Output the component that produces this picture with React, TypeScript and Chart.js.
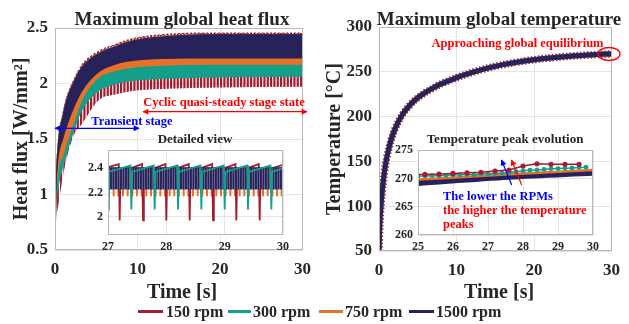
import React, { useEffect, useRef } from "react";
import { Chart, registerables } from "chart.js";

Chart.register(...registerables);

const SERIF = "'Liberation Serif', 'Times New Roman', Times, serif";
const INK = "#262626";
const GRID = "#e4e4e4";
const BOX = "#b8b8b8";
const RED_TXT = "#ff0000";
const BLUE_TXT = "#0000ff";

const rpmLabels = ["150 rpm", "300 rpm", "750 rpm", "1500 rpm"];
const rpmColors = ["#A51C30", "#149F8B", "#E8712A", "#27235A"];

// ---- Left panel: heat flux envelopes (upper / lower limits of the oscillation) ----
const fluxTime = [0, 0.1, 0.4, 1, 1.4, 2.2, 3.3, 5.3, 7.3, 9.2, 13, 20, 30];
const fluxPeak150 = [0.62, 1.02, 1.47, 1.74, 1.87, 2.02, 2.17, 2.29, 2.35, 2.4, 2.44, 2.455, 2.455];
const fluxPeak = [0.62, 1.0, 1.45, 1.72, 1.85, 2.0, 2.15, 2.27, 2.33, 2.38, 2.42, 2.44, 2.44];
const fluxLow1500 = [0.62, 0.95, 1.3, 1.5, 1.6, 1.76, 1.93, 2.1, 2.17, 2.2, 2.22, 2.225, 2.225];
const fluxLow750 = [0.62, 0.9, 1.2, 1.35, 1.45, 1.62, 1.85, 2.05, 2.11, 2.14, 2.16, 2.17, 2.17];
const fluxLow300 = [0.62, 0.85, 1.05, 1.25, 1.35, 1.55, 1.76, 1.93, 1.99, 2.02, 2.04, 2.055, 2.06];
const fluxLow150 = [0.62, 0.75, 0.9, 1.18, 1.32, 1.52, 1.64, 1.85, 1.9, 1.93, 1.95, 1.965, 1.97];

// ---- Detailed view (27–30 s) ----
const detailTime150 = [27.0, 27.185, 27.2, 27.215, 27.585, 27.6, 27.615, 27.985, 28.0, 28.015, 28.385, 28.4, 28.415, 28.785, 28.8, 28.815, 29.185, 29.2, 29.215, 29.585, 29.6, 29.615, 30.0];
const detailFlux150 = [2.41, 2.435, 1.97, 2.37, 2.435, 1.97, 2.37, 2.435, 1.97, 2.37, 2.435, 1.97, 2.37, 2.435, 1.97, 2.37, 2.435, 1.97, 2.37, 2.435, 1.97, 2.37, 2.43];
const detailTime300 = [27.0, 27.015, 27.385, 27.4, 27.415, 27.785, 27.8, 27.815, 28.185, 28.2, 28.215, 28.585, 28.6, 28.615, 28.985, 29.0, 29.015, 29.385, 29.4, 29.415, 29.785, 29.8, 29.815, 30.0];
const detailFlux300 = [2.06, 2.37, 2.425, 2.06, 2.37, 2.425, 2.06, 2.37, 2.425, 2.06, 2.37, 2.425, 2.06, 2.37, 2.425, 2.06, 2.37, 2.425, 2.06, 2.37, 2.425, 2.06, 2.37, 2.4];
const detailBandTime = [27, 30];
const detailTop750 = [2.405, 2.405];
const detailLow750 = [2.17, 2.17];
const detailTop1500 = [2.405, 2.405];
const detailLow1500 = [2.225, 2.225];

// ---- Right panel: maximum global temperature ----
const tempTime = [0, 0.1, 0.25, 0.5, 0.75, 1, 1.5, 2, 3, 4, 5, 6, 7, 8, 9.3, 11, 13.5, 16, 18, 20, 22, 25, 28, 30];
const tempRise = [50, 78, 100, 124, 141, 154, 172, 185, 202, 213, 221, 227, 232, 236.5, 241, 246.5, 253, 258, 261, 263.5, 265.5, 267.7, 269.2, 270];

// ---- Temperature peak evolution (25–30 s) ----
const peakTime150 = [25.0, 25.2, 25.6, 26.0, 26.4, 26.8, 27.2, 27.6, 28.0, 28.4, 28.8, 29.2, 29.6];
const peakTemp150 = [270.7, 270.72, 270.78, 270.9, 271.0, 271.1, 271.3, 271.5, 272.2, 272.6, 272.5, 272.5, 272.5];
const peakTime300 = [25.0, 25.2, 25.4, 25.6, 25.8, 26.0, 26.2, 26.4, 26.6, 26.8, 27.0, 27.2, 27.4, 27.6, 27.8, 28.0, 28.2, 28.4, 28.6, 28.8, 29.0, 29.2, 29.4, 29.6, 29.8];
const peakTemp300 = [270.4, 270.45, 270.5, 270.5, 270.55, 270.6, 270.65, 270.7, 270.7, 270.8, 270.85, 270.9, 270.95, 271.05, 271.2, 271.35, 271.45, 271.5, 271.6, 271.7, 271.75, 271.8, 271.85, 271.95, 272.0];
const peakTime750 = [25, 27.5, 30];
const peakTemp750 = [269.8, 270.7, 271.5];
const peakTime1500 = [25, 27.6, 30];
const peakTemp1500 = [269.2, 270.3, 271.0];

// ---- Tick labels ----
const timeTicks = [0, 10, 20, 30];
const fluxTicks = [0.5, 1, 1.5, 2, 2.5];
const tempTicks = [50, 100, 150, 200, 250, 300];
const detailTimeTicks = [27, 28, 29, 30];
const detailFluxTicks = [2, 2.2, 2.4];
const peakTimeTicks = [25, 26, 27, 28, 29, 30];
const peakTempTicks = [260, 265, 270, 275];

const pts = (xs: number[], ys: number[]) => xs.map((x, i) => ({ x, y: ys[i] }));

function stripes(width: number, bars: Array<[number, number]>, color: string, bg: string) {
  const c = document.createElement("canvas");
  c.width = width;
  c.height = 4;
  const g = c.getContext("2d")!;
  g.fillStyle = bg;
  g.fillRect(0, 0, width, 4);
  g.fillStyle = color;
  for (const [x, w] of bars) g.fillRect(x, 0, w, 4);
  return g.createPattern(c, "repeat")!;
}

function axis(kind: "x" | "y", min: number, max: number, ticks: number[], fontSize: number, pad: number, size: number) {
  return {
    type: "linear" as const,
    min,
    max,
    afterBuildTicks: (s: any) => {
      s.ticks = ticks.map((v) => ({ value: v }));
    },
    afterFit: (s: any) => {
      if (kind === "x") s.height = size;
      else s.width = size;
    },
    grid: { color: GRID, lineWidth: 1, drawTicks: false },
    border: { display: false },
    ticks: {
      color: INK,
      padding: pad,
      autoSkip: false,
      maxRotation: 0,
      font: { family: SERIF, size: fontSize, weight: "bold" as const },
      callback: (v: any) => String(v),
    },
  };
}

const frame = {
  id: "frame",
  beforeDraw(chart: any) {
    const { ctx, chartArea: a } = chart;
    ctx.save();
    ctx.fillStyle = "#ffffff";
    ctx.fillRect(a.left, a.top, a.right - a.left, a.bottom - a.top);
    ctx.restore();
  },
  afterDatasetsDraw(chart: any) {
    const { ctx, chartArea: a } = chart;
    ctx.save();
    ctx.strokeStyle = BOX;
    ctx.lineWidth = 1;
    ctx.strokeRect(Math.round(a.left) + 0.5, Math.round(a.top) + 0.5, Math.round(a.right - a.left) - 1, Math.round(a.bottom - a.top) - 1);
    ctx.restore();
  },
};

function baseOptions(padding: any, scales: any) {
  return {
    animation: false as const,
    responsive: false,
    maintainAspectRatio: false,
    events: [] as any[],
    layout: { padding },
    plugins: { legend: { display: false }, tooltip: { enabled: false }, title: { display: false } },
    scales,
  };
}

const band = (xs: number[], lo: number[], hi: number[], fill: any, border: string, bw: number, order: number, dash: number[] = []) => [
  { data: pts(xs, lo), borderWidth: 0, pointRadius: 0, fill: false, order, cubicInterpolationMode: "monotone" as const },
  {
    data: pts(xs, hi),
    borderWidth: bw,
    borderColor: border,
    borderDash: dash,
    backgroundColor: fill,
    pointRadius: 0,
    fill: "-1",
    order,
    cubicInterpolationMode: "monotone" as const,
  },
];

function buildFluxMain(): any {
  const redPat = stripes(10, [[0, 2.2], [3.33, 2.2], [6.67, 2.2]], rpmColors[0], "rgba(255,255,255,0)");
  return {
    type: "line",
    data: {
      datasets: [
        ...band(fluxTime, fluxLow150, fluxPeak150, redPat, rpmColors[0], 1.2, 40, [2, 2]),
        ...band(fluxTime, fluxLow300, fluxPeak, rpmColors[1], rpmColors[1], 1.5, 30),
        ...band(fluxTime, fluxLow750, fluxPeak, rpmColors[2], rpmColors[2], 1.5, 20),
        ...band(fluxTime, fluxLow1500, fluxPeak, rpmColors[3], rpmColors[3], 1, 10),
      ],
    },
    options: baseOptions(
      { left: 0, top: 28, right: 11, bottom: 3 },
      {
        x: axis("x", 0, 30, timeTicks, 17, 9, 29),
        y: axis("y", 0.5, 2.5, fluxTicks, 17, 7, 55),
      }
    ),
    plugins: [frame],
  };
}

function buildTempMain(): any {
  const mk = (i: number, w: number, order: number, dash: number[] = []) => ({
    data: pts(tempTime, tempRise),
    borderColor: rpmColors[i],
    borderWidth: w,
    borderDash: dash,
    pointRadius: 0,
    fill: false,
    order,
    cubicInterpolationMode: "monotone" as const,
  });
  return {
    type: "line",
    data: { datasets: [mk(0, 7.5, 3, [1.5, 2]), mk(1, 5, 2), mk(2, 5, 1), mk(3, 5, 0)] },
    options: baseOptions(
      { left: 0, top: 27, right: 10, bottom: 3 },
      {
        x: axis("x", 0, 30, timeTicks, 17, 9, 28),
        y: axis("y", 50, 300, tempTicks, 17, 7, 59),
      }
    ),
    plugins: [frame],
  };
}

function buildFluxDetail(): any {
  const orangePat = stripes(14, [[0, 2], [4.67, 2], [9.33, 2]], rpmColors[2], "rgba(255,255,255,0)");
  const navyPat = stripes(5, [[0, 1.9], [2.5, 1.9]], rpmColors[3], "#8f8cae");
  const line = (xs: number[], ys: number[], i: number, order: number) => ({
    data: pts(xs, ys),
    borderColor: rpmColors[i],
    borderWidth: 1.8,
    pointRadius: 0,
    fill: false,
    order,
  });
  return {
    type: "line",
    data: {
      datasets: [
        ...band(detailBandTime, detailLow750, detailTop750, orangePat, "rgba(0,0,0,0)", 0, 30),
        line(detailTime150, detailFlux150, 0, 25),
        ...band(detailBandTime, detailLow1500, detailTop1500, navyPat, rpmColors[3], 1, 20),
        line(detailTime300, detailFlux300, 1, 10),
      ],
    },
    options: baseOptions(
      { left: 0, top: 9, right: 12, bottom: 5 },
      {
        x: axis("x", 27, 30, detailTimeTicks, 12, 5, 20),
        y: axis("y", 1.85, 2.55, detailFluxTicks, 12, 5, 28),
      }
    ),
    plugins: [frame],
  };
}

function buildTempPeak(): any {
  return {
    type: "line",
    data: {
      datasets: [
        {
          data: pts(peakTime150, peakTemp150),
          borderColor: rpmColors[0],
          backgroundColor: rpmColors[0],
          borderWidth: 1.5,
          pointRadius: (c: any) => (c.dataIndex === 0 ? 0 : 2.6),
          pointBorderWidth: 0,
          fill: false,
          order: 0,
        },
        {
          data: pts(peakTime300, peakTemp300),
          borderColor: rpmColors[1],
          backgroundColor: rpmColors[1],
          borderWidth: 1.5,
          pointRadius: 2.4,
          pointBorderWidth: 0,
          fill: false,
          order: 1,
        },
        {
          data: pts(peakTime750, peakTemp750),
          borderColor: rpmColors[2],
          borderWidth: 2.5,
          pointRadius: 0,
          fill: false,
          order: 2,
          cubicInterpolationMode: "monotone" as const,
        },
        {
          data: pts(peakTime1500, peakTemp1500),
          borderColor: rpmColors[3],
          borderWidth: 6,
          pointRadius: 0,
          fill: false,
          order: 3,
          cubicInterpolationMode: "monotone" as const,
        },
      ],
    },
    options: baseOptions(
      { left: 0, top: 10, right: 17, bottom: 5 },
      {
        x: axis("x", 25, 30, peakTimeTicks, 12, 5, 20),
        y: axis("y", 260, 275, peakTempTicks, 12, 5, 42),
      }
    ),
    plugins: [frame],
  };
}

function ChartCanvas({ left, top, width, height, build }: { left: number; top: number; width: number; height: number; build: () => any }) {
  const ref = useRef<HTMLCanvasElement>(null);
  useEffect(() => {
    const chart = new Chart(ref.current!, build());
    return () => chart.destroy();
  }, []);
  return <canvas ref={ref} width={width} height={height} style={{ position: "absolute", left, top, width, height }} />;
}

function Txt({ x, y, size, color = INK, anchor = "middle", children }: any) {
  const tx = anchor === "start" ? "0" : "-50%";
  return (
    <div
      style={{
        position: "absolute",
        left: x,
        top: y,
        transform: `translate(${tx},-50%)`,
        fontFamily: SERIF,
        fontWeight: "bold",
        fontSize: size,
        color,
        whiteSpace: "nowrap",
        lineHeight: 1,
      }}
    >
      {children}
    </div>
  );
}

function RotTxt({ x, y, size, children }: any) {
  return (
    <div style={{ position: "absolute", left: x, top: y, width: 0, height: 0 }}>
      <div
        style={{
          position: "absolute",
          left: 0,
          top: 0,
          transform: "translate(-50%,-50%) rotate(-90deg)",
          fontFamily: SERIF,
          fontWeight: "bold",
          fontSize: size,
          color: INK,
          whiteSpace: "nowrap",
          lineHeight: 1,
        }}
      >
        {children}
      </div>
    </div>
  );
}

export default function App() {
  const legendPos = [
    { x1: 138, x2: 163, tx: 166 },
    { x1: 228, x2: 251, tx: 253 },
    { x1: 319, x2: 343, tx: 345 },
    { x1: 409, x2: 434, tx: 436 },
  ];
  return (
    <div style={{ position: "absolute", left: 0, top: 0, width: 629, height: 324, background: "#fff", overflow: "hidden" }}>
      <ChartCanvas left={0} top={0} width={320} height={282} build={buildFluxMain} />
      <ChartCanvas left={320} top={0} width={309} height={282} build={buildTempMain} />
      <ChartCanvas left={80} top={138} width={215} height={122} build={buildFluxDetail} />
      <ChartCanvas left={376} top={138} width={234} height={122} build={buildTempPeak} />

      <svg width={629} height={324} style={{ position: "absolute", left: 0, top: 0, pointerEvents: "none" }}>
        <defs>
          <marker id="ahR" viewBox="0 0 10 10" refX="9" refY="5" markerWidth="6" markerHeight="5" orient="auto-start-reverse">
            <path d="M0,0 L10,5 L0,10 z" fill={RED_TXT} />
          </marker>
          <marker id="ahB" viewBox="0 0 10 10" refX="9" refY="5" markerWidth="6" markerHeight="5" orient="auto-start-reverse">
            <path d="M0,0 L10,5 L0,10 z" fill={BLUE_TXT} />
          </marker>
        </defs>
        <line x1={143} y1={111.7} x2={307} y2={111.7} stroke={RED_TXT} strokeWidth={1.2} markerStart="url(#ahR)" markerEnd="url(#ahR)" />
        <line x1={55} y1={128.3} x2={139} y2={128.3} stroke={BLUE_TXT} strokeWidth={1.2} markerStart="url(#ahB)" markerEnd="url(#ahB)" />
        <ellipse cx={609} cy={54} rx={11} ry={6.5} fill="none" stroke={RED_TXT} strokeWidth={1.3} />
        <line x1={511.7} y1={185} x2={501.5} y2={160} stroke={BLUE_TXT} strokeWidth={1.2} markerEnd="url(#ahB)" />
        <line x1={521.7} y1={185} x2={511.5} y2={160} stroke={RED_TXT} strokeWidth={1.2} markerEnd="url(#ahR)" />
      </svg>

      <Txt x={182} y={18} size={19}>Maximum global heat flux</Txt>
      <Txt x={499} y={18} size={19}>Maximum global temperature</Txt>
      <Txt x={182} y={291} size={20}>Time [s]</Txt>
      <Txt x={499} y={291} size={20}>Time [s]</Txt>
      <RotTxt x={20} y={139} size={20}>Heat flux [W/mm²]</RotTxt>
      <RotTxt x={333} y={139} size={20}>Temperature [°C]</RotTxt>

      <Txt x={224} y={101.7} size={12.5} color={RED_TXT}>Cyclic quasi-steady stage state</Txt>
      <Txt x={132} y={120.7} size={12.5} color={BLUE_TXT}>Transient stage</Txt>
      <Txt x={195} y={138.3} size={13}>Detailed view</Txt>
      <Txt x={505} y={138.3} size={13}>Temperature peak evolution</Txt>
      <Txt x={517.5} y={43.3} size={12.5} color={RED_TXT}>Approaching global equilibrium</Txt>
      <Txt x={443} y={196} size={12.5} color={BLUE_TXT} anchor="start">The lower the RPMs</Txt>
      <Txt x={443} y={210} size={12.5} color={RED_TXT} anchor="start">the higher the temperature</Txt>
      <Txt x={443} y={223.5} size={12.5} color={RED_TXT} anchor="start">peaks</Txt>

      {rpmLabels.map((label, i) => (
        <React.Fragment key={label}>
          <div
            style={{
              position: "absolute",
              left: legendPos[i].x1,
              top: 310,
              width: legendPos[i].x2 - legendPos[i].x1,
              height: 2.5,
              background: rpmColors[i],
            }}
          />
          <Txt x={legendPos[i].tx} y={312} size={16} anchor="start">{label}</Txt>
        </React.Fragment>
      ))}
    </div>
  );
}
